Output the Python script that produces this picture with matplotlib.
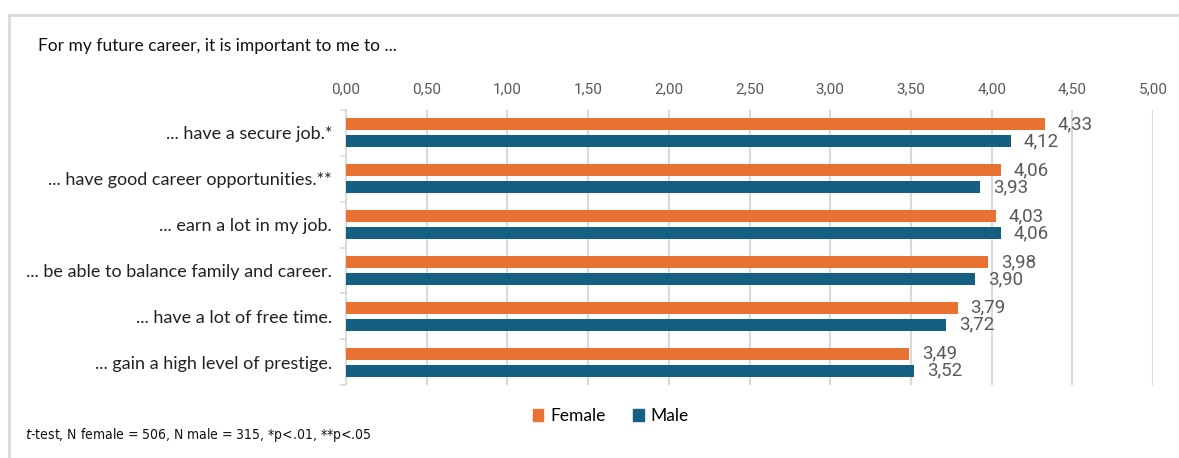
import matplotlib.pyplot as plt
from matplotlib.lines import Line2D
from matplotlib.patches import Patch
import numpy as np

# survey items, top to bottom
items = [
    "... have a secure job.*",
    "... have good career opportunities.**",
    "... earn a lot in my job.",
    "... be able to balance family and career.",
    "... have a lot of free time.",
    "... gain a high level of prestige.",
]
female = [4.33, 4.06, 4.03, 3.98, 3.79, 3.49]
male = [4.12, 3.93, 4.06, 3.90, 3.72, 3.52]
xticks = [0.0, 0.5, 1.0, 1.5, 2.0, 2.5, 3.0, 3.5, 4.0, 4.5, 5.0]

c_female = '#E97132'
c_male = '#156082'
c_grid = '#D9D9D9'
c_label = '#595959'

plt.rcParams['font.family'] = ['Lato', 'DejaVu Sans']

fig = plt.figure(figsize=(11.79, 4.58), dpi=100)
ax = fig.add_axes([346 / 1179, 1 - 385 / 458, 807 / 1179, 275 / 458])

y = np.arange(len(items))
h = 0.26
off = 0.185
ax.barh(y - off, female, height=h, color=c_female, zorder=3, label='Female')
ax.barh(y + off, male, height=h, color=c_male, zorder=3, label='Male')

def fmt(v):
    return f"{v:.2f}".replace('.', ',')

for yi, f, m in zip(y, female, male):
    ax.annotate(fmt(f), (f, yi - off), xytext=(9, 0), textcoords='offset points',
                va='center', ha='left', fontsize=13.5, color=c_label, family='Roboto')
    ax.annotate(fmt(m), (m, yi + off), xytext=(9, 0), textcoords='offset points',
                va='center', ha='left', fontsize=13.5, color=c_label, family='Roboto')

ax.set_xlim(0, 5)
ax.set_ylim(len(items) - 0.5, -0.5)
ax.set_xticks(xticks)
ax.set_xticklabels([fmt(t) for t in xticks], family='Roboto', fontsize=11, color=c_label)
ax.xaxis.tick_top()
ax.tick_params(axis='x', length=0, pad=10)
ax.grid(axis='x', color=c_grid, lw=1.5, zorder=0)

ax.set_yticks(y)
ax.set_yticklabels(items, fontsize=13, color='#222222')
ax.set_yticks(np.arange(len(items) + 1) - 0.5, minor=True)
ax.tick_params(axis='y', which='major', length=0, pad=10)
ax.tick_params(axis='y', which='minor', length=4, color=c_grid, width=1.2)

for s in ['top', 'right', 'bottom']:
    ax.spines[s].set_visible(False)
ax.spines['left'].set_color(c_grid)
ax.spines['left'].set_linewidth(1.2)

# chart title and footnote
fig.text(38 / 1179, 1 - 46 / 458, "For my future career, it is important to me to ...",
         fontsize=12.5, color='#111111', va='center', ha='left')
fig.text(25 / 1179, 1 - 435 / 458,
         r"$\it{t}$-test, N female = 506, N male = 315, *p<.01, **p<.05",
         fontsize=10, color='#111111', va='center', ha='left',
         family='DejaVu Sans', stretch='condensed')

handles = [Patch(color=c_female, label='Female'), Patch(color=c_male, label='Male')]
fig.legend(handles=handles, loc='center', bbox_to_anchor=(611 / 1179, 1 - 416 / 458),
           ncol=2, frameon=False, prop={'size': 12.5},
           handlelength=0.6, handleheight=0.7, handletextpad=0.4, columnspacing=1.6)

# outer frame (top and left edges)
fig.add_artist(Line2D([9 / 1179, 1], [1 - 15 / 458, 1 - 15 / 458], color=c_grid, lw=2,
                      transform=fig.transFigure))
fig.add_artist(Line2D([9 / 1179, 9 / 1179], [0, 1 - 15 / 458], color=c_grid, lw=2,
                      transform=fig.transFigure))

fig.savefig('out.png', dpi=100)
